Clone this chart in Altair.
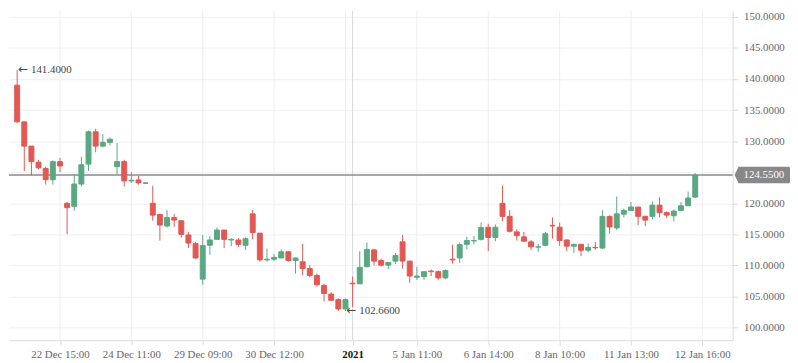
import altair as alt
import pandas as pd

# ---- data (one candle per list position) ----
opens = [139.0, 133.1, 129.2, 126.6, 125.6, 123.8, 126.7, 120.0, 119.5, 123.1,
         126.3, 131.5, 129.2, 129.8, 125.9, 126.7, 123.6, 123.76, 123.25, 120.0,
         118.2, 116.35, 117.7, 117.2, 114.9, 113.5, 107.8, 113.25, 114.2, 115.7,
         114.1, 114.1, 113.25, 118.3, 115.2, 110.9, 111.0, 111.2, 112.2, 110.8,
         110.6, 109.5, 108.4, 106.8, 105.4, 104.5, 103.0, 107.15, 107.05, 109.8,
         112.5, 110.8, 110.05, 110.7, 113.8, 110.7, 108.1, 108.2, 109.1, 109.0,
         108.0, 111.0, 111.2, 113.4, 113.95, 114.2, 116.15, 114.5, 120.0, 117.9,
         115.4, 114.6, 113.8, 112.95, 113.25, 116.45, 116.15, 114.1, 113.1, 113.4,
         112.45, 112.9, 112.8, 117.9, 116.05, 118.25, 118.85, 119.4, 117.9, 117.9,
         119.7, 118.5, 118.0, 118.85, 119.6, 121.0]
highs = [141.4, 133.1, 129.2, 127.0, 125.9, 126.9, 127.3, 120.2, 124.7, 127.5,
         131.7, 132.0, 131.1, 130.6, 129.7, 127.0, 125.0, 124.4, 123.25, 122.8,
         118.3, 118.9, 118.3, 117.2, 115.4, 113.8, 114.9, 114.75, 116.1, 115.7,
         114.4, 114.4, 114.5, 118.9, 115.2, 112.7, 111.8, 112.6, 112.3, 111.3,
         113.5, 110.1, 108.7, 107.1, 105.7, 104.7, 104.7, 108.2, 112.3, 113.7,
         112.7, 111.1, 110.5, 112.0, 114.9, 110.7, 109.8, 109.0, 109.35, 109.2,
         109.35, 113.35, 113.7, 114.6, 114.75, 116.9, 116.7, 116.6, 122.8, 118.9,
         115.8, 115.4, 114.1, 113.5, 115.4, 117.7, 116.9, 114.2, 113.5, 113.5,
         113.5, 113.8, 118.9, 118.05, 121.1, 119.15, 120.2, 119.4, 118.0, 120.3,
         121.0, 118.7, 119.0, 120.2, 121.9, 124.85]
lows = [132.9, 125.2, 124.5, 125.5, 123.0, 123.0, 125.0, 115.0, 118.8, 122.7,
        125.2, 128.2, 129.0, 129.3, 124.7, 122.7, 123.3, 123.0, 123.25, 117.2,
        114.0, 116.1, 116.2, 114.5, 112.8, 111.1, 106.9, 111.7, 114.2, 112.8,
        113.1, 113.0, 112.5, 114.2, 110.6, 110.6, 110.7, 111.2, 110.6, 108.7,
        108.4, 108.1, 106.6, 104.2, 104.4, 102.7, 102.66, 103.3, 107.0, 109.7,
        110.0, 109.8, 109.4, 110.2, 109.5, 107.2, 107.7, 107.7, 108.3, 107.7,
        107.8, 110.3, 110.45, 112.6, 113.4, 114.0, 112.3, 113.9, 117.1, 115.3,
        114.0, 113.9, 112.5, 112.2, 113.1, 114.3, 113.15, 112.3, 112.0, 111.5,
        112.1, 112.5, 112.65, 115.1, 115.7, 117.75, 118.85, 116.5, 116.35, 117.4,
        117.75, 117.6, 117.1, 118.7, 119.55, 120.85]
closes = [133.1, 129.2, 126.7, 125.7, 123.8, 126.7, 126.0, 119.3, 123.1, 126.2,
          131.5, 129.2, 129.8, 130.3, 126.7, 123.6, 123.7, 123.3, 123.25, 118.1,
          116.5, 117.7, 117.3, 115.0, 113.6, 111.2, 113.2, 114.1, 115.7, 114.2,
          114.2, 113.4, 114.3, 115.3, 110.9, 111.0, 111.3, 112.2, 110.8, 111.2,
          109.5, 108.4, 106.9, 105.5, 104.4, 103.0, 104.5, 107.05, 109.7, 112.6,
          110.7, 110.05, 110.5, 111.6, 110.7, 108.3, 108.3, 109.0, 109.0, 108.0,
          109.2, 110.9, 113.35, 114.0, 114.0, 116.1, 114.5, 116.15, 117.9, 115.5,
          114.8, 113.9, 113.0, 113.0, 115.1, 116.35, 114.0, 113.1, 113.4, 112.45,
          112.9, 112.85, 117.9, 116.2, 118.3, 118.85, 119.4, 117.9, 117.3, 119.7,
          118.5, 118.1, 118.75, 119.6, 120.85, 124.55]

tick_positions = [6, 16, 26, 36, 47, 56, 66, 76, 86, 96]
tick_labels = ["22 Dec 15:00", "24 Dec 11:00", "29 Dec 09:00", "30 Dec 12:00", "2021",
               "5 Jan 11:00", "6 Jan 14:00", "8 Jan 10:00", "11 Jan 13:00", "12 Jan 16:00"]
grid_positions = [6, 16, 26, 36, 46, 56, 66, 76, 86, 96]
year_line = [47]
y_ticks = [100, 105, 110, 115, 120, 125, 130, 135, 140, 145, 150]
hidden_y_label = 125  # covered by the last-price marker in the reference
last_price = 124.55
extremes_i = [0, 46]
extremes_v = [141.4, 102.66]

# ---- tables ----
def direction(o, c):
    if c > o:
        return "up"
    if c < o:
        return "down"
    return "flat"

df = pd.DataFrame({
    "i": list(range(len(opens))),
    "open": opens, "high": highs, "low": lows, "close": closes,
})
df["dir"] = [direction(o, c) for o, c in zip(opens, closes)]

ext = pd.DataFrame({"i": extremes_i, "v": extremes_v})
ext["label"] = ["%.4f" % v for v in extremes_v]
ext["arrow"] = "\u2190"

FONT = "Liberation Serif"
RED = "#e25853"
GREEN = "#5aa883"
DIRS = ["up", "down", "flat"]
DIR_COLORS = [GREEN, RED, "#777777"]

x_scale = alt.Scale(domain=[-0.45, 99.55], nice=False, zero=False)
y_scale = alt.Scale(domain=[97.98, 150.93], nice=False, zero=False)

label_expr = "[" + ",".join("'%s'" % t for t in tick_labels) + "][indexof([" + \
    ",".join(str(p) for p in tick_positions) + "], datum.value)]"
y_label_expr = "datum.value == %d ? '' : format(datum.value, '.4f')" % hidden_y_label

x_axis = alt.Axis(values=tick_positions, labelExpr=label_expr, grid=False,
                  title=None, tickSize=5, labelPadding=3, labelOverlap=False,
                  labelColor={"condition": {"test": "datum.value == 47", "value": "#111111"},
                              "value": "#666666"},
                  labelFontWeight={"condition": {"test": "datum.value == 47", "value": "bold"},
                                   "value": "normal"})
y_axis = alt.Axis(orient="right", values=y_ticks, labelExpr=y_label_expr, grid=True,
                  gridColor="#eef0f3", title=None, tickSize=5, labelPadding=6,
                  labelOverlap=False)


def X(field):
    return alt.X(field, scale=x_scale, axis=x_axis)


def Y(field):
    return alt.Y(field, scale=y_scale, axis=y_axis)


color = alt.Color("dir:N", scale=alt.Scale(domain=DIRS, range=DIR_COLORS), legend=None)

base = alt.Chart(df)

wicks = base.mark_rule(strokeWidth=1).encode(
    x=X("i:Q"), y=Y("low:Q"), y2="high:Q", color=color,
)

bodies = base.mark_bar(size=5, strokeWidth=1).encode(
    x=X("i:Q"), y=Y("open:Q"), y2="close:Q", color=color,
    stroke=alt.Stroke("dir:N", scale=alt.Scale(domain=DIRS, range=DIR_COLORS), legend=None),
)

vgrid = alt.Chart(pd.DataFrame({"i": grid_positions})).mark_rule(
    color="#eceef1", strokeWidth=1).encode(x=X("i:Q"))
yline = alt.Chart(pd.DataFrame({"i": year_line})).mark_rule(
    color="#d6d8db", strokeWidth=1).encode(x=X("i:Q"))

price_line = alt.Chart(pd.DataFrame({"v": [last_price]})).mark_rule(
    color="#8a8a8a", strokeWidth=1.3).encode(y=Y("v:Q"))

box_path = "M-1,0L-0.86,-0.3L0.95,-0.3Q1,-0.3,1,-0.25L1,0.25Q1,0.3,0.95,0.3L-0.86,0.3Z"
price_box = alt.Chart(pd.DataFrame({"v": [last_price]})).mark_point(
    shape=box_path, size=3136, filled=True, fill="#888888", opacity=1, strokeWidth=0
).encode(x=alt.value(762), y=Y("v:Q"))
price_text = alt.Chart(pd.DataFrame({"v": [last_price], "t": ["%.4f" % last_price]})).mark_text(
    align="left", baseline="middle", color="white", font=FONT, fontSize=11
).encode(x=alt.value(743), y=Y("v:Q"), text="t:N")

ann_arrow = alt.Chart(ext).mark_text(
    align="left", baseline="middle", dx=1, dy=-1, color="#444444", font="DejaVu Sans", fontSize=12
).encode(x=X("i:Q"), y=Y("v:Q"), text="arrow:N")
ann_text = alt.Chart(ext).mark_text(
    align="left", baseline="middle", dx=14, color="#444444", font=FONT, fontSize=11
).encode(x=X("i:Q"), y=Y("v:Q"), text="label:N")

chart = alt.layer(
    vgrid, yline, price_line, wicks, bodies, ann_arrow, ann_text, price_box, price_text
).properties(
    width=732, height=333, padding=0
).configure_view(
    strokeWidth=0
).configure_axis(
    labelFont=FONT, labelFontSize=11, labelColor="#666666",
    domainColor="#d9dce0", tickColor="#d9dce0",
)

chart.save("out.html", embed_options={"renderer": "svg", "actions": False})
